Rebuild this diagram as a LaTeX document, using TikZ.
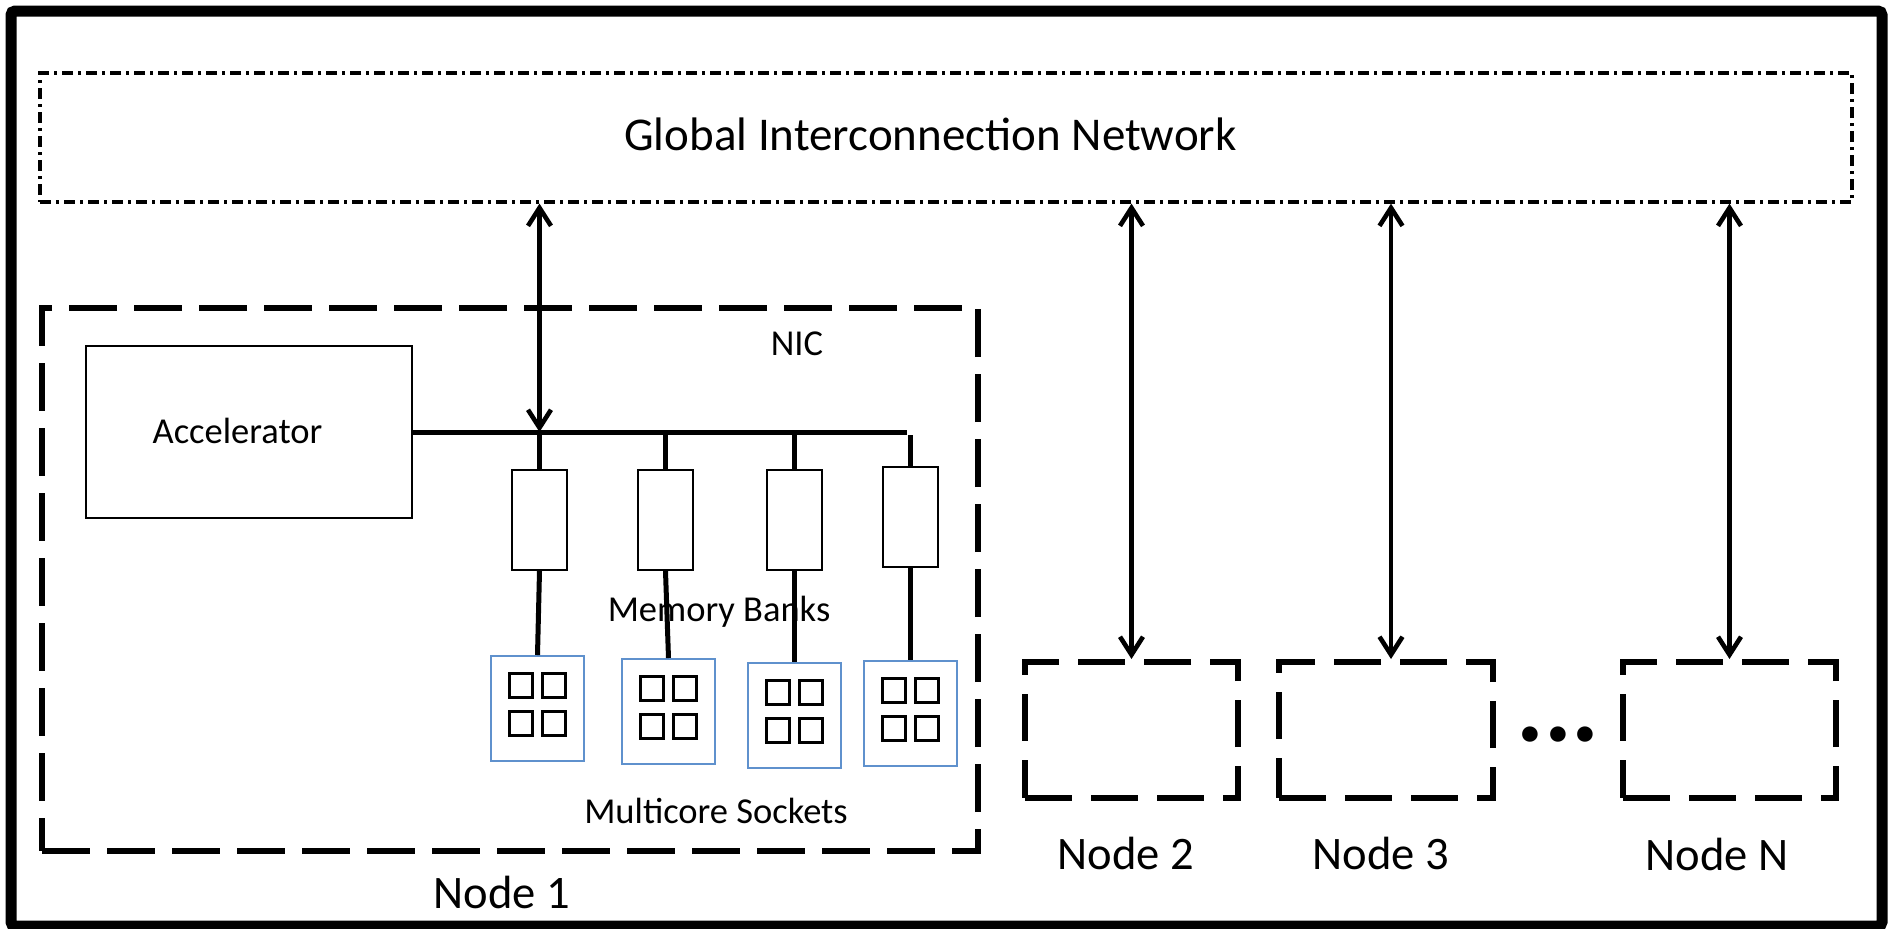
\documentclass[tikz,border=0pt]{standalone}
\usepackage{fontspec}
\setmainfont{Carlito}
\usetikzlibrary{arrows.meta}
\definecolor{sockblue}{RGB}{95,145,205}
\tikzset{
  frame/.style={line width=5.5pt, rounded corners=2pt},
  ginbox/.style={draw, line width=1.6pt, dash pattern=on 5.5pt off 2.5pt on 1.5pt off 2.5pt,
    minimum width=906pt, minimum height=64.5pt, inner sep=0pt,
    font=\fontsize{23.5pt}{28pt}\selectfont, text height=12.5pt, text depth=0pt},
  bignode/.style={draw, line width=3.25pt, dash pattern=on 24pt off 8.5pt,
    minimum width=468pt, minimum height=271.5pt, inner sep=0pt},
  othernode/.style={draw, line width=3pt, dash pattern=on 23.5pt off 9.5pt,
    minimum height=68pt, inner sep=0pt},
  accbox/.style={draw, line width=1pt, minimum width=163pt, minimum height=86pt, inner sep=0pt,
    font=\fontsize{18.25pt}{22pt}\selectfont, text height=11pt, text depth=0pt},
  bank/.style={draw, line width=1pt, minimum width=27.5pt, minimum height=50pt, inner sep=0pt},
  socket/.style={draw=sockblue, line width=1pt, minimum width=46.5pt, minimum height=52.5pt, inner sep=0pt},
  core/.style={draw, line width=1.5pt, minimum width=11.5pt, minimum height=12pt, inner sep=0pt},
  medlabel/.style={anchor=base, inner sep=0pt, font=\fontsize{18.25pt}{22pt}\selectfont},
  biglabel/.style={anchor=base, inner sep=0pt, font=\fontsize{23.3pt}{28pt}\selectfont},
  bus/.style={line width=2.5pt},
  link/.style={line width=2.5pt},
  biarrow/.style={line width=2.3pt,
    {Straight Barb[length=9pt,width=11.5pt]}-{Straight Barb[length=9pt,width=11.5pt]}},
}
\begin{document}
\begin{tikzpicture}[x=0.5pt, y=-0.5pt]
\useasboundingbox (0,0) rectangle (1891,928);
% outer frame
\draw[frame] (11,11) rectangle (1882,926);

% global interconnection network
\node[ginbox] (gin) at (946,137.5) {Global Interconnection Network\hspace*{15.5pt}};

% node 1
\node[bignode] (n1) at (510,579.5) {};
\node[medlabel] (nic) at (797,355) {NIC};
\node[accbox] (acc) at (249,432) {Accelerator\hspace*{11.5pt}};

\node[bank] (b1) at (539.5,520) {};
\node[bank] (b2) at (665.5,520) {};
\node[bank] (b3) at (794.5,520) {};
\node[bank] (b4) at (910.5,517) {};

\coordinate (busend) at (907,432);
\draw[bus] (acc.east) -- (busend);
\foreach \b in {b1,b2,b3}{
  \draw[link] (\b.north |- acc.east) -- (\b.north);
}
\draw[link] ([yshift=-1.5pt]b4.north |- busend) -- ([yshift=-1pt]b4.north);

\node[medlabel] (mbl) at (719,621) {Memory Banks};

\node[socket] (s1) at (537.5,708.5) {};
\node[socket] (s2) at (668.5,711.5) {};
\node[socket] (s3) at (794.5,715.5) {};
\node[socket] (s4) at (910.5,713.5) {};

\foreach \i in {1,2,3,4}{
  \draw[link] (b\i.south) -- (s\i.north);
  \foreach \dx/\dy/\k in {-16.25/-23.5/a, 16.25/-23.5/b, -16.25/15/c, 16.25/15/d}{
    \node[core] (s\i\k) at ([shift={(\dx,\dy)}]s\i.center) {};
  }
}

\node[medlabel] (mcs) at (716,823) {Multicore Sockets};
\node[biglabel] (l1) at (502,908) {Node 1};

% other nodes
\node[othernode, minimum width=106.5pt] (n2) at (1131.5,730) {};
\node[othernode, minimum width=107pt] (n3) at (1386,730) {};
\node[othernode, minimum width=106.5pt] (nN) at (1729.5,730) {};

\node[biglabel] (l2) at (1126,869) {Node 2};
\node[biglabel] (l3) at (1381,869) {Node 3};
\node[biglabel] (lN) at (1717,870) {Node N};

\node[anchor=base, inner sep=0pt, font=\fontsize{52pt}{52pt}\selectfont\bfseries] (dots) at (1558,741) {...};

% arrows
\draw[biarrow] (gin.south -| b1.north) -- (b1.north |- acc.east);
\draw[biarrow] (gin.south -| n2.north) -- (n2.north);
\draw[biarrow] ([xshift=2.5pt]gin.south -| n3.north) -- ([xshift=2.5pt]n3.north);
\draw[biarrow] (gin.south -| nN.north) -- (nN.north);
\end{tikzpicture}
\end{document}
